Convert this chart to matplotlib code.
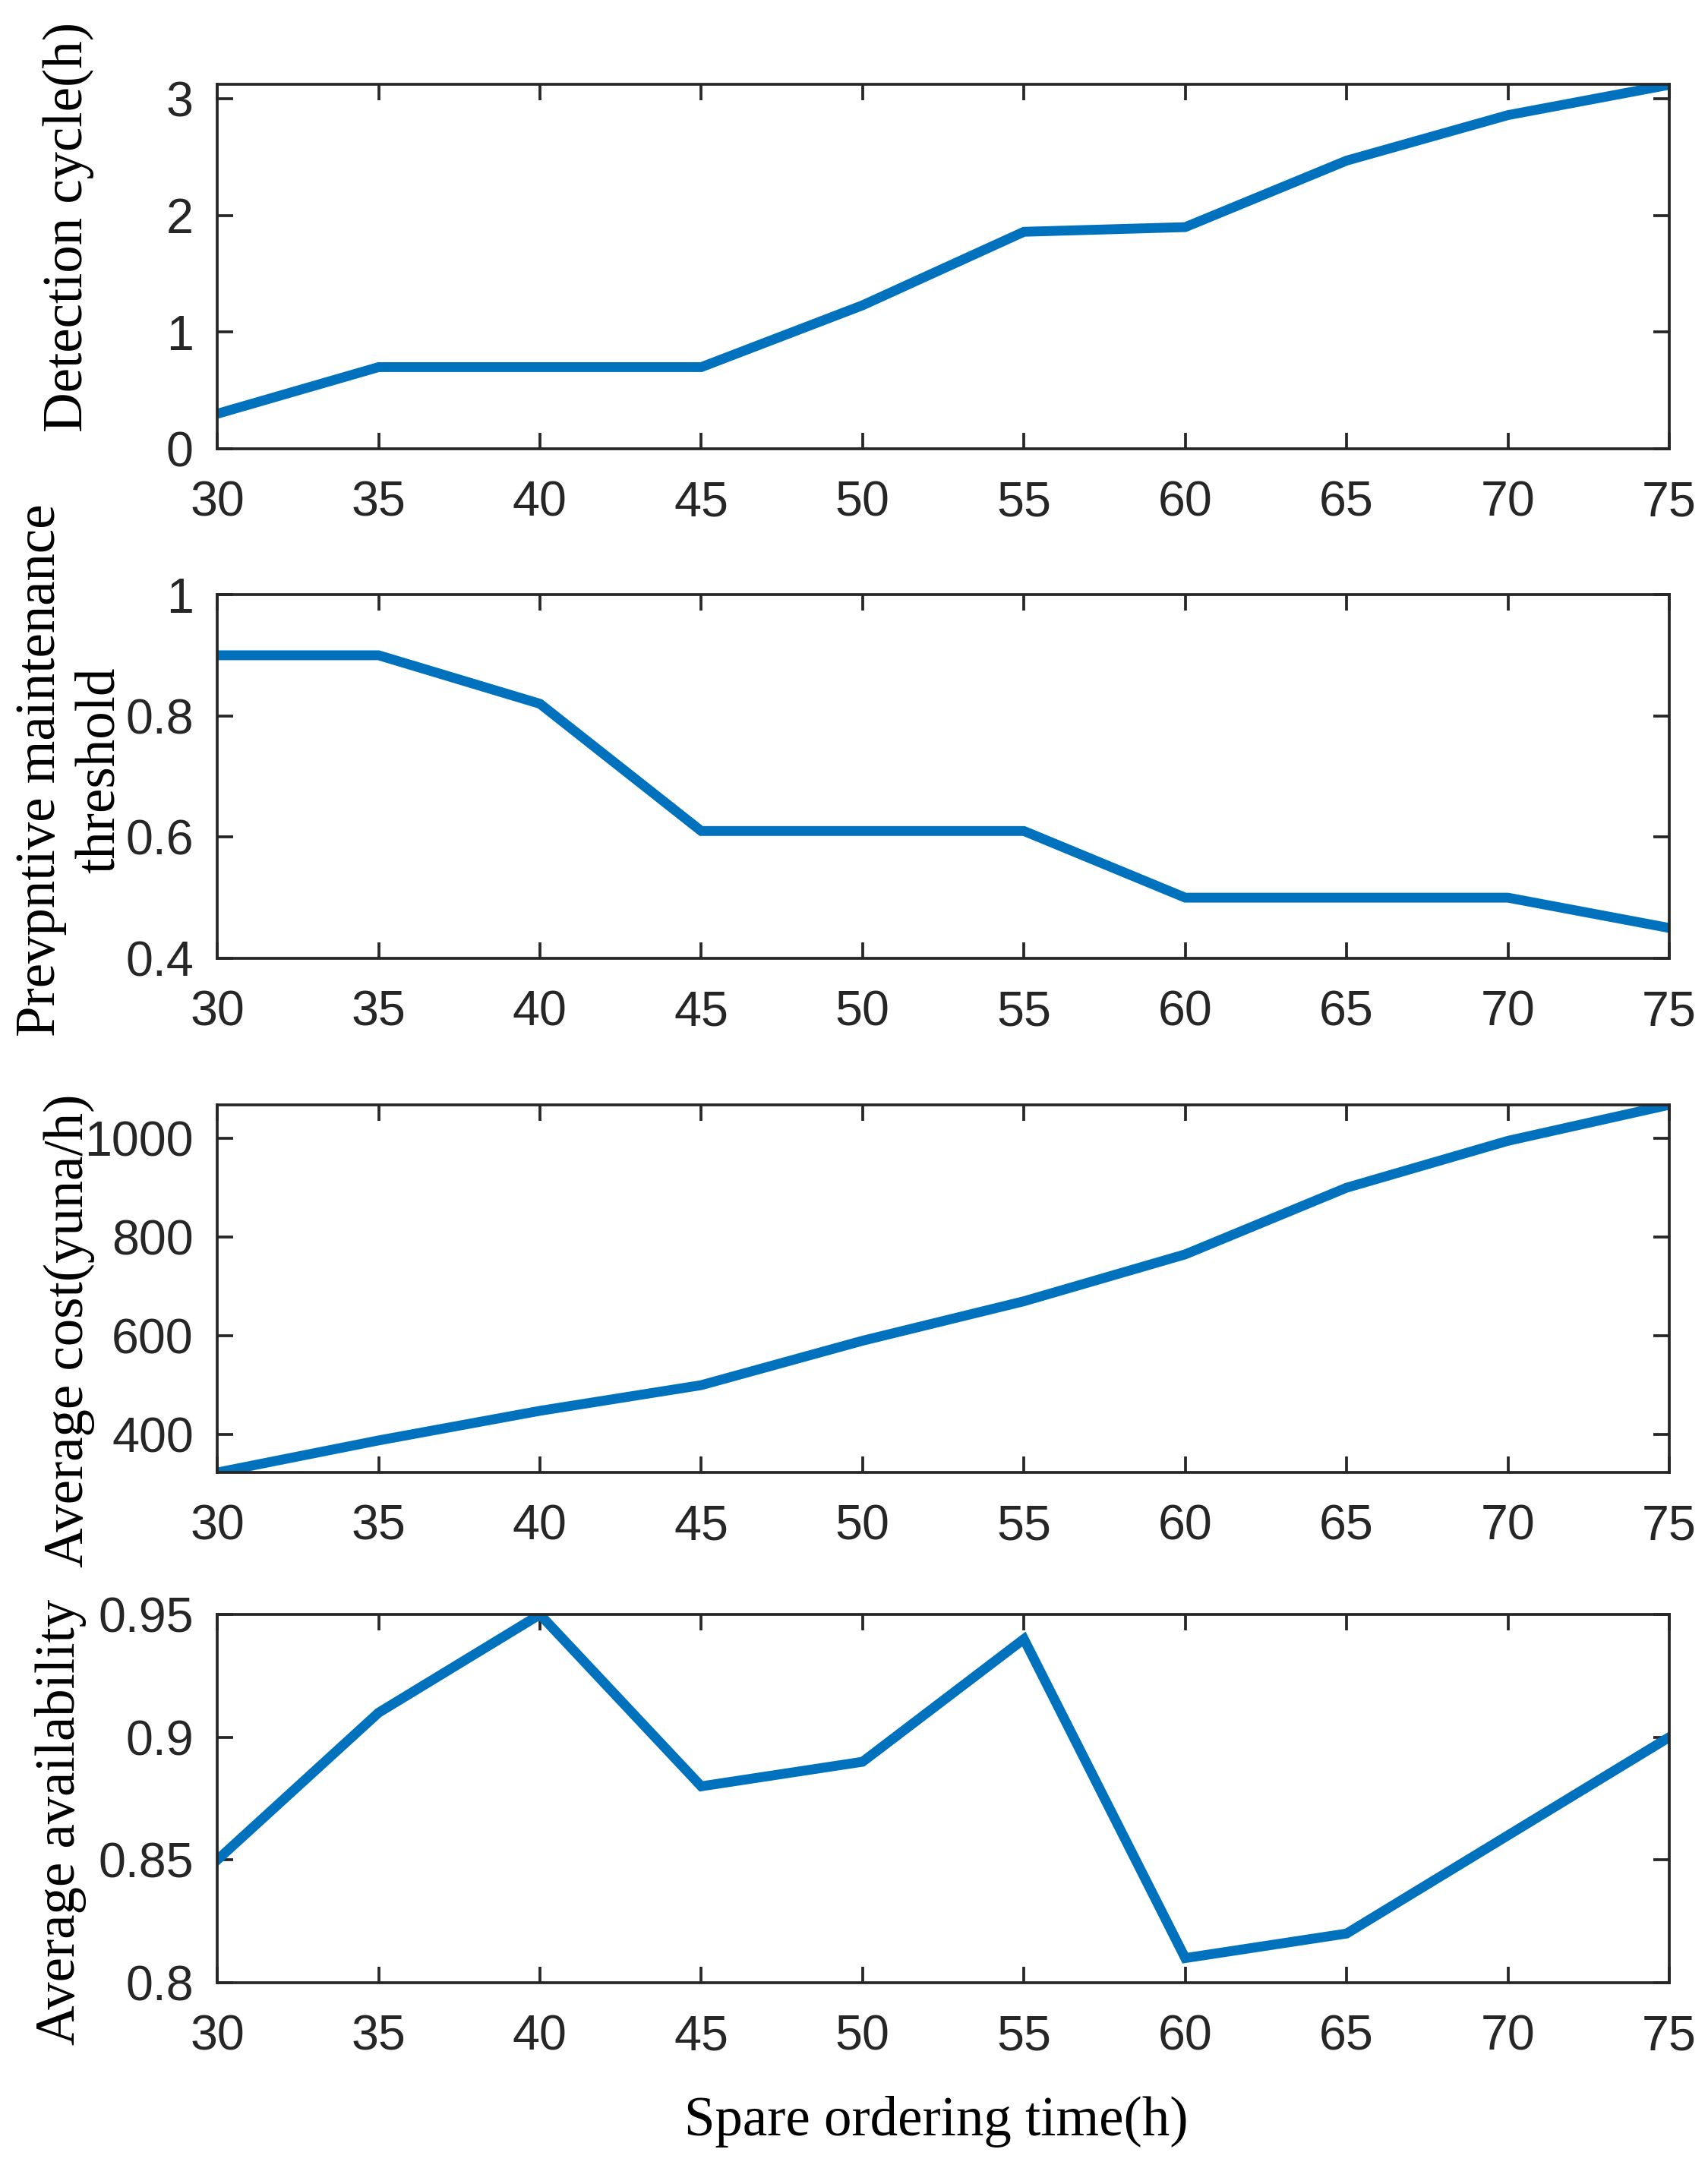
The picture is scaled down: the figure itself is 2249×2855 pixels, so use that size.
import matplotlib
matplotlib.use("Agg")
import matplotlib.pyplot as plt

x = [30, 35, 40, 45, 50, 55, 60, 65, 70, 75]
detection_cycle = [0.3, 0.7, 0.7, 0.7, 1.23, 1.86, 1.9, 2.47, 2.86, 3.12]
pm_threshold = [0.9, 0.9, 0.82, 0.61, 0.61, 0.61, 0.5, 0.5, 0.5, 0.45]
avg_cost = [323, 388, 448, 500, 590, 670, 765, 900, 995, 1068]
avg_avail = [0.85, 0.91, 0.95, 0.88, 0.89, 0.94, 0.81, 0.82, 0.86, 0.90]

ylabels = ["Detection cycle(h)", "Prevpntive maintenance\nthreshold",
           "Average cost(yuna/h)", "Average availability"]
ylims = [(0, 3.124), (0.4, 1.0), (323, 1068), (0.8, 0.95)]
yticks = [[0, 1, 2, 3], [0.4, 0.6, 0.8, 1.0], [400, 600, 800, 1000],
          [0.8, 0.85, 0.9, 0.95]]
yticklabels = [["0", "1", "2", "3"], ["0.4", "0.6", "0.8", "1"],
               ["400", "600", "800", "1000"], ["0.8", "0.85", "0.9", "0.95"]]
xlabel = "Spare ordering time(h)"

series = [detection_cycle, pm_threshold, avg_cost, avg_avail]

fig = plt.figure(figsize=(2249 / 300, 2855 / 300), dpi=300)
left, right = 0.1272, 0.9773
boxes = [(0.7930, 0.9611), (0.5580, 0.7257), (0.3208, 0.4904), (0.0855, 0.2553)]
label_pos = [(0.040, 0.8953), (0.0412, 0.6449), (0.0405, 0.3863), (0.0356, 0.1594)]
axcol = "#262626"
tickfont = "Liberation Sans"
labfont = "Liberation Serif"

for i, (b, t) in enumerate(boxes):
    ax = fig.add_axes([left, b, right - left, t - b])
    ax.plot(x, series[i], color="#0072BD", lw=3.1, solid_joinstyle="miter")
    ax.set_xlim(30, 75)
    ax.set_ylim(*ylims[i])
    ax.set_xticks(x)
    ax.set_xticklabels([str(v) for v in x], fontname=tickfont, fontsize=15.5, color=axcol)
    ax.set_yticks(yticks[i])
    ax.set_yticklabels(yticklabels[i], fontname=tickfont, fontsize=15.5, color=axcol)
    ax.tick_params(direction="in", top=True, right=True, length=5, width=0.9,
                   color=axcol)
    ax.tick_params(axis="x", pad=10)
    ax.tick_params(axis="y", pad=7.5)
    for s in ax.spines.values():
        s.set_linewidth(0.9)
        s.set_color(axcol)
    fig.text(label_pos[i][0], label_pos[i][1], ylabels[i], rotation=90,
             ha="center", va="center", multialignment="center",
             fontname=labfont, fontsize=17.5, color="black", linespacing=1.2)

fig.text(0.548, 0.0215, xlabel, ha="center", va="center",
         fontname=labfont, fontsize=17.5, color="black")

fig.savefig("out.png", dpi=300, facecolor="white")
